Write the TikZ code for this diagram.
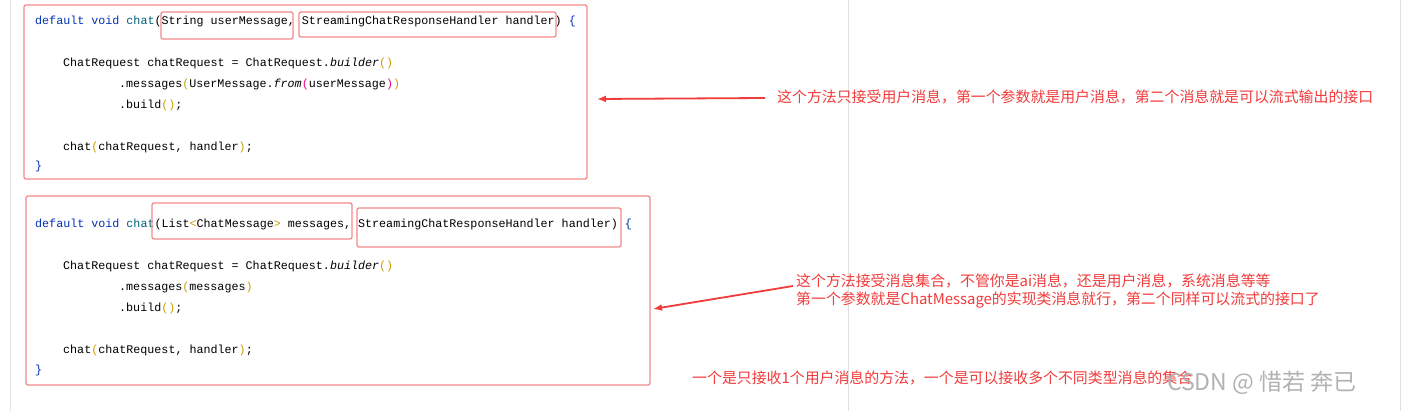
\documentclass[tikz,border=0pt]{standalone}
\usepackage{fontspec}
\setmonofont{Liberation Mono}
\newfontfamily\cjk{Noto Sans CJK SC}
\usetikzlibrary{positioning,arrows.meta}
\definecolor{kw}{HTML}{0033B3}
\definecolor{fn}{HTML}{00627A}
\definecolor{par}{HTML}{C9A100}
\definecolor{mark}{HTML}{F28B8B}
\definecolor{note}{HTML}{F23B3B}
\newcommand{\kwd}[1]{\textcolor{kw}{#1}}
\newcommand{\pn}[1]{\textcolor{par}{#1}}
\begin{document}
\begin{tikzpicture}
    [x=1pt,y=-1pt,
     code/.style={anchor=west,inner sep=0pt,font=\ttfamily\fontsize{11.7}{12}\selectfont},
     memo/.style={anchor=west,inner sep=0pt,text=note,font=\cjk\fontsize{14.9}{18}\selectfont,align=left},
     frame/.style={draw=mark,line width=1.3pt,rounded corners=2pt},
     pre/.style={<-,>={Latex[length=9pt,width=7pt]},draw=note,line width=1.8pt}]
    \useasboundingbox[fill=white] (0,0) rectangle (1411,411);
    \draw[black!12] (848,0) -- (848,411);
    \draw[black!12] (1400,0) -- (1400,411);
    \draw[black!10] (10,0) -- (10,411);
    % first method
    \node[code] (a1) at (35,21) {\kwd{default void} \textcolor{fn}{chat}(String userMessage, StreamingChatResponseHandler handler) \kwd{\{}};
    \node[code] (a2) at (63,63) {ChatRequest chatRequest = ChatRequest.\textit{builder}\pn{()}};
    \node[code] (a3) at (119,84) {.messages\pn{(}UserMessage.\textit{from}\textcolor{magenta}{(}userMessage\textcolor{magenta}{)}\pn{)}};
    \node[code] (a4) at (119,105) {.build\pn{()};};
    \node[code] (a5) at (63,147) {chat\pn{(}chatRequest, handler\pn{)};};
    \node[code] (a6) at (35,166) {\kwd{\}}};
    \draw[frame] (24,5) rectangle (587,179);
    \draw[frame] (161,12) rectangle (293,39);
    \draw[frame] (299,12) rectangle (556,37);
    % second method
    \node[code] (b1) at (35,224) {\kwd{default void} \textcolor{fn}{chat}(List\pn{<}ChatMessage\pn{>} messages, StreamingChatResponseHandler handler) \kwd{\{}};
    \node[code] (b2) at (63,266) {ChatRequest chatRequest = ChatRequest.\textit{builder}\pn{()}};
    \node[code] (b3) at (119,287) {.messages\pn{(}messages\pn{)}};
    \node[code] (b4) at (119,308) {.build\pn{()};};
    \node[code] (b5) at (63,350) {chat\pn{(}chatRequest, handler\pn{)};};
    \node[code] (b6) at (35,370) {\kwd{\}}};
    \draw[frame] (26,196) rectangle (650,385);
    \draw[frame] (152,203) rectangle (352,239);
    \draw[frame] (357,208) rectangle (621,247);
    % notes
    \node[memo] (n1) at (777,97) {这个方法只接受用户消息，第一个参数就是用户消息，第二个消息就是可以流式输出的接口};
    \node[memo] (n2) at (796,291) {这个方法接受消息集合，不管你是ai消息，还是用户消息，系统消息等等\\第一个参数就是ChatMessage的实现类消息就行，第二个同样可以流式的接口了};
    \node[memo] (n3) at (692,378) {一个是只接收1个用户消息的方法，一个是可以接收多个不同类型消息的集合};
    \coordinate (t1) at (597,99);
    \coordinate (t2) at (653,309);
    \draw[pre] (t1) -- ([xshift=-12pt,yshift=-1pt]n1.west);
    \draw[pre] (t2) -- ([xshift=-3pt,yshift=5pt]n2.west);
    \node[anchor=west,inner sep=0pt,text=black!30,font=\cjk\fontsize{23}{25}\selectfont] (wm) at (1167,383) {CSDN @ 惜若 奔已};
  \end{tikzpicture}
\end{document}
